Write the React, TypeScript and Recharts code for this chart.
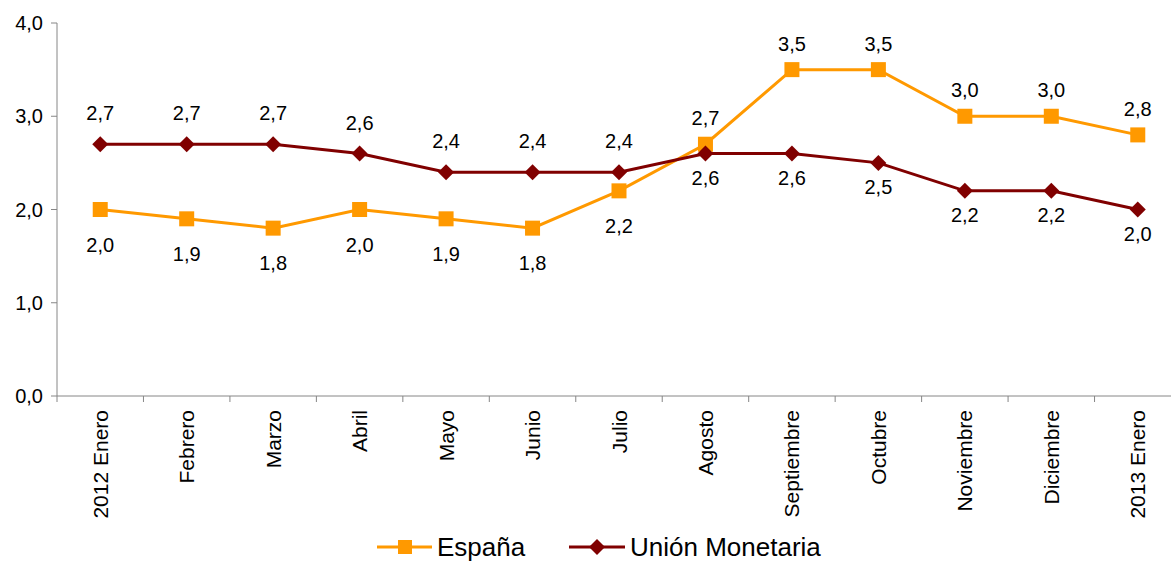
import React from 'react';
import { LineChart, Line, XAxis, YAxis, Legend, LabelList } from 'recharts';

const categories = ['2012 Enero', 'Febrero', 'Marzo', 'Abril', 'Mayo', 'Junio', 'Julio', 'Agosto', 'Septiembre', 'Octubre', 'Noviembre', 'Diciembre', '2013 Enero'];
const espana = [2.0, 1.9, 1.8, 2.0, 1.9, 1.8, 2.2, 2.7, 3.5, 3.5, 3.0, 3.0, 2.8];
const unionMonetaria = [2.7, 2.7, 2.7, 2.6, 2.4, 2.4, 2.4, 2.6, 2.6, 2.5, 2.2, 2.2, 2.0];
const yTicks = [0, 1, 2, 3, 4];

const data = categories.map((c, i) => ({ name: c, esp: espana[i], um: unionMonetaria[i] }));

const W = 1181;
const H = 561;
const LEFT = 57;
const PLOT_W = W - LEFT;
const BAND = PLOT_W / categories.length;
const ORANGE = '#FF9900';
const DARKRED = '#800000';
const AXIS = '#868686';
const FONT = 'Arial, "Liberation Sans", sans-serif';

const fmt = (v: number) => v.toFixed(1).replace('.', ',');

const XTick = (props: any) => {
  const { x, y, payload, index } = props;
  const last = index === categories.length - 1;
  return (
    <g>
      <line x1={x - BAND / 2} x2={x - BAND / 2} y1={y} y2={y + 6} stroke={AXIS} strokeWidth={1} />
      {last && <line x1={x + BAND / 2} x2={x + BAND / 2} y1={y} y2={y + 6} stroke={AXIS} strokeWidth={1} />}
      <text
        x={0}
        y={0}
        dy="0.36em"
        transform={`translate(${x},${y + 14}) rotate(-90)`}
        textAnchor="end"
        fontSize={21}
        fontFamily={FONT}
        fill="#000"
      >
        {payload.value}
      </text>
    </g>
  );
};

const makeLabel = (own: number[], other: number[], aboveDy: number, belowDy: number) => (props: any) => {
  const { x, y, value, index } = props;
  const below = own[index] < other[index];
  const dy = below ? belowDy : aboveDy;
  return (
    <text x={x} y={y + dy} textAnchor="middle" fontSize={20} fontFamily={FONT} fill="#000">
      {fmt(value)}
    </text>
  );
};

const SquareDot = (props: any) => {
  const { cx, cy, index } = props;
  return <rect key={`s-${index}`} x={cx - 7.5} y={cy - 7.5} width={15} height={15} fill={ORANGE} />;
};

const DiamondDot = (props: any) => {
  const { cx, cy, index } = props;
  const r = 8;
  return (
    <path
      key={`d-${index}`}
      d={`M${cx},${cy - r} L${cx + r},${cy} L${cx},${cy + r} L${cx - r},${cy} Z`}
      fill={DARKRED}
    />
  );
};

const LegendContent = () => (
  <svg width={W} height={30} style={{ display: 'block' }}>
    <line x1={377} x2={432} y1={16} y2={16} stroke={ORANGE} strokeWidth={3} />
    <rect x={398} y={9} width={14} height={14} fill={ORANGE} />
    <text x={437} y={25} fontSize={26} fontFamily={FONT} fill="#000">España</text>
    <line x1={569} x2={625} y1={16} y2={16} stroke={DARKRED} strokeWidth={3} />
    <path d="M597,8 L605,16 L597,24 L589,16 Z" fill={DARKRED} />
    <text x={630} y={25} fontSize={26} fontFamily={FONT} fill="#000">Unión Monetaria</text>
  </svg>
);

export default function App() {
  return (
    <div style={{ position: 'absolute', left: 0, top: 0, width: 1171, height: 561, overflow: 'hidden', background: '#fff' }}>
      <LineChart width={W} height={H} data={data} margin={{ top: 23, right: 0, bottom: 0, left: 0 }}>
        <XAxis
          dataKey="name"
          interval={0}
          height={135}
          tickSize={0}
          tickMargin={0}
          tickLine={false}
          padding={{ left: BAND / 2, right: BAND / 2 }}
          axisLine={{ stroke: AXIS, strokeWidth: 1 }}
          tick={<XTick />}
        />
        <YAxis
          width={LEFT}
          domain={[0, 4]}
          ticks={yTicks}
          tickFormatter={fmt}
          tickSize={6}
          tickMargin={8}
          tickLine={{ stroke: AXIS }}
          axisLine={{ stroke: AXIS, strokeWidth: 1 }}
          tick={{ fill: '#000', fontSize: 20, fontFamily: FONT }}
        />
        <Legend
          verticalAlign="bottom"
          content={<LegendContent />}
          wrapperStyle={{ left: 0, bottom: 0, width: W, height: 30 }}
        />
        <Line
          dataKey="esp"
          name="España"
          stroke={ORANGE}
          strokeWidth={3}
          dot={<SquareDot />}
          activeDot={false}
          isAnimationActive={false}
        >
          <LabelList dataKey="esp" content={makeLabel(espana, unionMonetaria, -19, 42)} />
        </Line>
        <Line
          dataKey="um"
          name="Unión Monetaria"
          stroke={DARKRED}
          strokeWidth={3}
          dot={<DiamondDot />}
          activeDot={false}
          isAnimationActive={false}
        >
          <LabelList dataKey="um" content={makeLabel(unionMonetaria, espana, -24, 31)} />
        </Line>
      </LineChart>
    </div>
  );
}
